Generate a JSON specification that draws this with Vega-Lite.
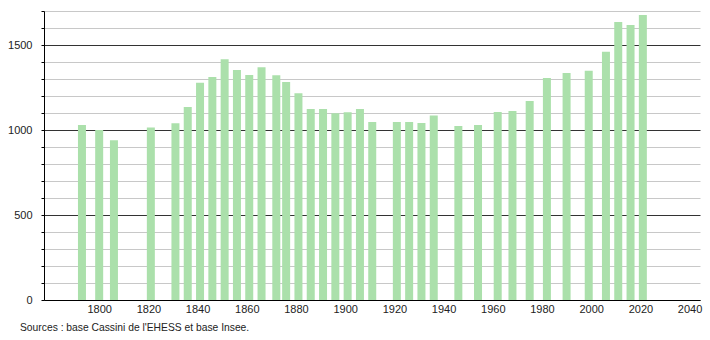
{
  "$schema": "https://vega.github.io/schema/vega-lite/v6.json",
  "width": 656,
  "height": 289,
  "autosize": {"type": "none"},
  "padding": {"left": 44, "top": 11, "right": 10, "bottom": 40},
  "background": "white",
  "config": {
    "view": {"stroke": null},
    "font": "Liberation Sans"
  },
  "title": {
    "text": "Sources : base Cassini de l'EHESS et base Insee.",
    "orient": "bottom",
    "anchor": "start",
    "frame": "group",
    "dx": -24,
    "offset": 9,
    "fontSize": 10.3,
    "fontWeight": "normal",
    "color": "#222",
    "font": "Liberation Sans"
  },
  "data": {
    "values": [
      {"year": 1793, "pop": 1030},
      {"year": 1800, "pop": 1000},
      {"year": 1806, "pop": 940},
      {"year": 1821, "pop": 1015},
      {"year": 1831, "pop": 1040},
      {"year": 1836, "pop": 1135},
      {"year": 1841, "pop": 1278},
      {"year": 1846, "pop": 1312},
      {"year": 1851, "pop": 1416},
      {"year": 1856, "pop": 1353},
      {"year": 1861, "pop": 1324},
      {"year": 1866, "pop": 1369},
      {"year": 1872, "pop": 1322},
      {"year": 1876, "pop": 1282},
      {"year": 1881, "pop": 1216},
      {"year": 1886, "pop": 1124},
      {"year": 1891, "pop": 1124},
      {"year": 1896, "pop": 1098},
      {"year": 1901, "pop": 1105},
      {"year": 1906, "pop": 1124},
      {"year": 1911, "pop": 1047},
      {"year": 1921, "pop": 1047},
      {"year": 1926, "pop": 1047},
      {"year": 1931, "pop": 1041},
      {"year": 1936, "pop": 1086},
      {"year": 1946, "pop": 1024},
      {"year": 1954, "pop": 1029},
      {"year": 1962, "pop": 1106},
      {"year": 1968, "pop": 1112},
      {"year": 1975, "pop": 1171},
      {"year": 1982, "pop": 1306},
      {"year": 1990, "pop": 1335},
      {"year": 1999, "pop": 1349},
      {"year": 2006, "pop": 1461},
      {"year": 2011, "pop": 1635},
      {"year": 2016, "pop": 1618},
      {"year": 2021, "pop": 1677}
    ]
  },
  "mark": {"type": "bar", "size": 8, "color": "#abe0ab"},
  "encoding": {
    "x": {
      "field": "year",
      "type": "quantitative",
      "scale": {"domain": [1779.6, 2042.2], "nice": false, "zero": false},
      "axis": {
        "title": null,
        "values": [1800, 1820, 1840, 1860, 1880, 1900, 1920, 1940, 1960, 1980, 2000, 2020, 2040],
        "format": "d",
        "grid": false,
        "ticks": false,
        "labelPadding": 3,
        "labelFontSize": 11,
        "labelColor": "#222",
        "domainColor": "#000",
        "labelFlush": false,
        "labelOverlap": false
      }
    },
    "y": {
      "field": "pop",
      "type": "quantitative",
      "scale": {"domain": [0, 1700], "nice": false},
      "axis": {
        "title": null,
        "values": [0, 100, 200, 300, 400, 500, 600, 700, 800, 900, 1000, 1100, 1200, 1300, 1400, 1500, 1600, 1700],
        "labelExpr": "datum.value % 500 === 0 ? datum.label : ''",
        "format": "d",
        "grid": true,
        "gridColor": {"condition": {"test": "datum.value % 500 === 0", "value": "#333333"}, "value": "#c8c8c8"},
        "gridWidth": 1,
        "tickSize": 3,
        "tickColor": "#000",
        "domainColor": "#000",
        "labelPadding": 9,
        "labelFontSize": 11,
        "labelColor": "#222",
        "labelOverlap": false
      }
    }
  }
}
